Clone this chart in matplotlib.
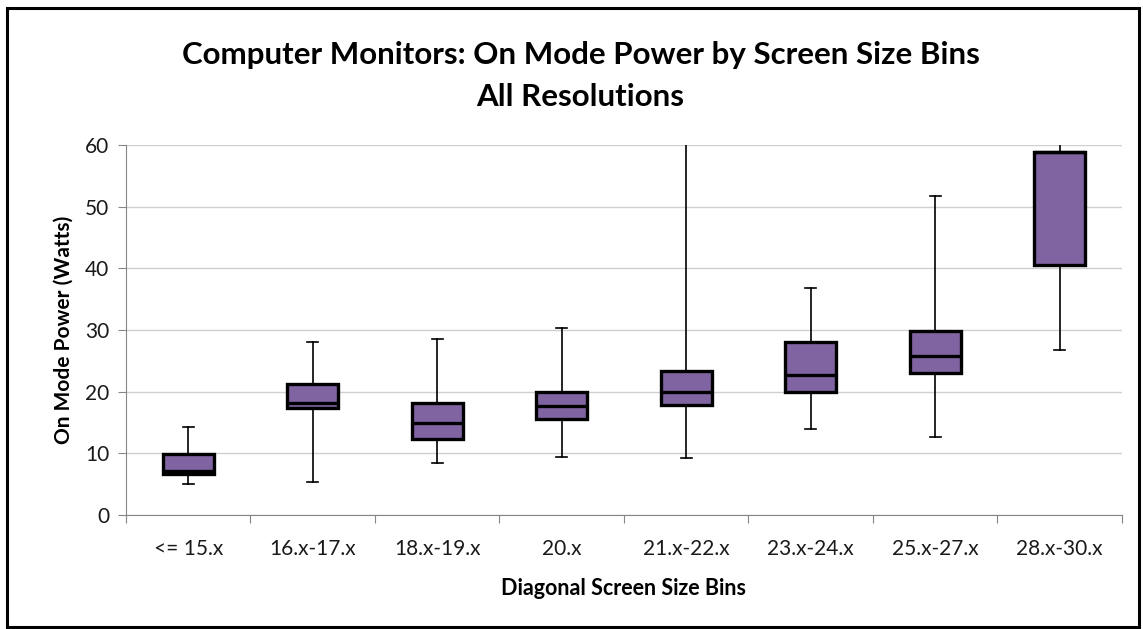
import matplotlib
matplotlib.use("Agg")
import matplotlib.pyplot as plt
from matplotlib.patches import Rectangle

plt.rcParams['font.family'] = ['Lato', 'DejaVu Sans']

# Données (Watts)
bins = ["<= 15.x", "16.x-17.x", "18.x-19.x", "20.x", "21.x-22.x",
        "23.x-24.x", "25.x-27.x", "28.x-30.x"]
whisker_low = [5.0, 5.4, 8.4, 9.4, 9.3, 13.9, 12.6, 26.7]
q1 = [6.6, 17.3, 12.3, 15.6, 17.9, 19.9, 23.1, 40.5]
median = [7.1, 18.1, 15.0, 17.6, 20.0, 22.7, 25.8, 58.8]
q3 = [9.9, 21.2, 18.1, 20.0, 23.4, 28.0, 29.9, 58.8]
whisker_high = [14.3, 28.1, 28.5, 30.4, 65.0, 36.8, 51.7, 65.0]

stats = []
for i in range(len(bins)):
    stats.append({"whislo": whisker_low[i], "q1": q1[i], "med": median[i],
                  "q3": q3[i], "whishi": whisker_high[i], "fliers": []})

fig = plt.figure(figsize=(11.43, 6.29), dpi=100)
ax = fig.add_axes([0.1102, 0.1812, 0.8714, 0.5883])

pos = list(range(1, len(bins) + 1))
ax.bxp(stats, positions=pos, widths=0.41, showfliers=False, patch_artist=True,
       boxprops=dict(facecolor="#8064A2", edgecolor="black", linewidth=2.4),
       medianprops=dict(color="black", linewidth=2.4),
       whiskerprops=dict(color="black", linewidth=1.2),
       capprops=dict(color="black", linewidth=1.2),
       capwidths=0.09, zorder=3)

ax.set_ylim(0, 60)
ax.set_xlim(0.5, len(bins) + 0.5)
ax.set_yticks(range(0, 61, 10))
ax.yaxis.grid(True, color="#D0D0D0", linewidth=1.0, zorder=0)
ax.set_axisbelow(True)

# ticks aux limites des catégories, étiquettes au centre
ax.set_xticks([p + 0.5 for p in range(0, len(bins) + 1)])
ax.set_xticklabels([])
ax.set_xticks(pos, minor=True)
ax.set_xticklabels(bins, minor=True)
ax.tick_params(axis="x", which="minor", length=0, pad=17, labelsize=15, colors="#1a1a1a")
ax.tick_params(axis="x", which="major", length=6, color="#868686", direction="out")
ax.tick_params(axis="y", length=6, color="#868686", labelsize=15, colors="#1a1a1a", pad=6)

for s in ["top", "right"]:
    ax.spines[s].set_visible(False)
for s in ["left", "bottom"]:
    ax.spines[s].set_color("#868686")

ax.set_ylabel("On Mode Power (Watts)", fontsize=15, fontweight="bold", labelpad=8)
ax.set_xlabel("Diagonal Screen Size Bins", fontsize=15.5, fontweight="bold", labelpad=14)

fig.text(0.508, 0.912, "Computer Monitors: On Mode Power by Screen Size Bins",
         ha="center", va="center", fontsize=22.5, fontweight="bold")
fig.text(0.508, 0.846, "All Resolutions", ha="center", va="center",
         fontsize=22.5, fontweight="bold")

# cadre de la zone du graphique
fig.patches.append(Rectangle((0.0065, 0.003), 0.99, 0.985, transform=fig.transFigure,
                             fill=False, edgecolor="black", linewidth=2.2))

fig.savefig("out.png", dpi=100)
